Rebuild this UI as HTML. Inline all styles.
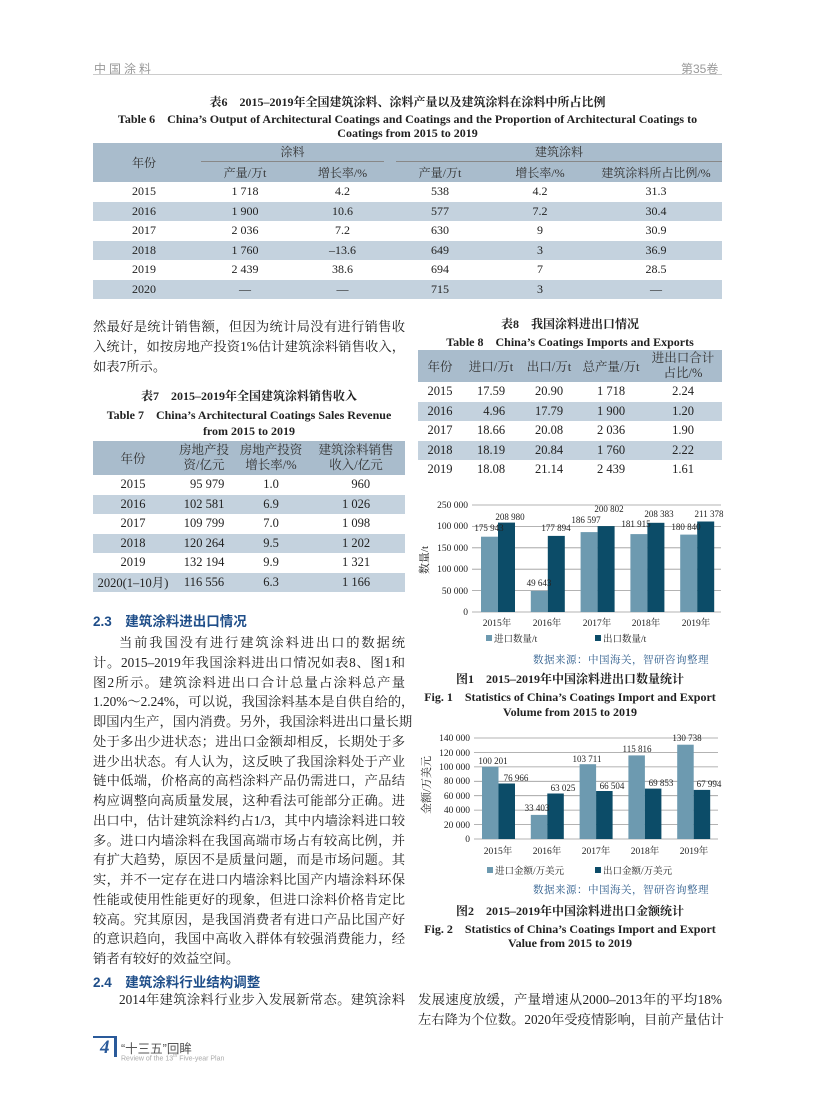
<!DOCTYPE html>
<html><head><meta charset="utf-8">
<style>
body{margin:0;width:816px;height:1099px;background:#fff;position:relative;overflow:hidden;font-family:"Liberation Serif","Noto Serif CJK SC",serif;color:#222;}
.a{position:absolute;white-space:nowrap;}
.l{position:absolute;font-size:13.3px;line-height:16px;white-space:nowrap;width:312px;text-align:justify;text-align-last:justify;}
.nl{text-align-last:left;}
.ti{position:absolute;font-weight:bold;font-size:12px;text-align:center;white-space:nowrap;}
table{border-collapse:collapse;position:absolute;font-size:12px;}
td{padding:0;text-align:center;height:19.5px;}
.sh td{background:#c4d2de;}
.hd td{background:#a9bccc;color:#333;}
.h2{position:absolute;font-family:"Liberation Sans","Noto Sans CJK SC",sans-serif;color:#1f4e89;font-size:13.5px;font-weight:bold;}
</style></head><body>
<div class="a" style="left:94px;top:60px;font-family:'Liberation Sans','Noto Sans CJK SC',sans-serif;color:#999;font-size:12px;letter-spacing:3px">中国涂料</div>
<div class="a" style="left:681px;top:60px;font-family:'Liberation Sans','Noto Sans CJK SC',sans-serif;color:#999;font-size:12px">第35卷</div>
<div class="a" style="left:93px;top:74px;width:629px;height:1px;background:#ccc"></div>

<div class="ti" style="left:93px;width:629px;top:93px">表6　2015–2019年全国建筑涂料、涂料产量以及建筑涂料在涂料中所占比例</div>
<div class="ti" style="left:93px;width:629px;top:110px">Table 6　China’s Output of Architectural Coatings and Coatings and the Proportion of Architectural Coatings to</div>
<div class="ti" style="left:93px;width:629px;top:126px">Coatings from 2015 to 2019</div>
<table style="left:93px;top:143px;width:629px">
<tr class="hd"><td rowspan="2" style="width:102px">年份</td><td colspan="2" style="height:19px"><div style="border-bottom:1px solid #888;margin:0 6px 0 6px;line-height:18px">涂料</div></td><td colspan="3"><div style="border-bottom:1px solid #888;margin:0 0 0 6px;line-height:18px">建筑涂料</div></td></tr>
<tr class="hd"><td style="width:100px">产量/万t</td><td style="width:95px">增长率/%</td><td style="width:100px">产量/万t</td><td style="width:100px">增长率/%</td><td>建筑涂料所占比例/%</td></tr>
<tr><td>2015</td><td>1 718</td><td>4.2</td><td>538</td><td>4.2</td><td>31.3</td></tr>
<tr class="sh"><td>2016</td><td>1 900</td><td>10.6</td><td>577</td><td>7.2</td><td>30.4</td></tr>
<tr><td>2017</td><td>2 036</td><td>7.2</td><td>630</td><td>9</td><td>30.9</td></tr>
<tr class="sh"><td>2018</td><td>1 760</td><td>–13.6</td><td>649</td><td>3</td><td>36.9</td></tr>
<tr><td>2019</td><td>2 439</td><td>38.6</td><td>694</td><td>7</td><td>28.5</td></tr>
<tr class="sh"><td>2020</td><td>—</td><td>—</td><td>715</td><td>3</td><td>—</td></tr>
</table>

<div class="l" style="left:93px;top:319px">然最好是统计销售额，但因为统计局没有进行销售收</div>
<div class="l" style="left:93px;top:339px">入统计，如按房地产投资1%估计建筑涂料销售收入，</div>
<div class="l nl" style="left:93px;top:359px">如表7所示。</div>

<div class="ti" style="left:93px;width:312px;top:387px">表7　2015–2019年全国建筑涂料销售收入</div>
<div class="ti" style="left:93px;width:312px;top:406px">Table 7　China’s Architectural Coatings Sales Revenue</div>
<div class="ti" style="left:93px;width:312px;top:424px">from 2015 to 2019</div>
<table style="left:93px;top:441px;width:312px;font-size:12.5px">
<tr class="hd"><td style="width:80px;height:34px">年份</td><td style="width:62px;line-height:15px">房地产投<br>资/亿元</td><td style="width:72px;line-height:15px">房地产投资<br>增长率/%</td><td style="line-height:15px">建筑涂料销售<br>收入/亿元</td></tr>
<tr><td>2015</td><td>&nbsp;&nbsp;95 979</td><td>1.0</td><td>&nbsp;&nbsp;&nbsp;960</td></tr>
<tr class="sh"><td>2016</td><td>102 581</td><td>6.9</td><td>1 026</td></tr>
<tr><td>2017</td><td>109 799</td><td>7.0</td><td>1 098</td></tr>
<tr class="sh"><td>2018</td><td>120 264</td><td>9.5</td><td>1 202</td></tr>
<tr><td>2019</td><td>132 194</td><td>9.9</td><td>1 321</td></tr>
<tr class="sh"><td>2020(1–10月)</td><td>116 556</td><td>6.3</td><td>1 166</td></tr>
</table>

<div class="h2" style="left:93px;top:610px">2.3　建筑涂料进出口情况</div>
<div class="l" style="left:93px;top:635px;width:286px;padding-left:26px">当前我国没有进行建筑涂料进出口的数据统</div>
<div class="l" style="left:93px;top:654.75px">计。2015–2019年我国涂料进出口情况如表8、图1和</div>
<div class="l" style="left:93px;top:674.5px">图2所示。建筑涂料进出口合计总量占涂料总产量</div>
<div class="l" style="left:93px;top:694.25px">1.20%～2.24%，可以说，我国涂料基本是自供自给的，</div>
<div class="l" style="left:93px;top:714px">即国内生产，国内消费。另外，我国涂料进出口量长期</div>
<div class="l" style="left:93px;top:733.75px">处于多出少进状态；进出口金额却相反，长期处于多</div>
<div class="l" style="left:93px;top:753.5px">进少出状态。有人认为，这反映了我国涂料处于产业</div>
<div class="l" style="left:93px;top:773.25px">链中低端，价格高的高档涂料产品仍需进口，产品结</div>
<div class="l" style="left:93px;top:793px">构应调整向高质量发展，这种看法可能部分正确。进</div>
<div class="l" style="left:93px;top:812.75px">出口中，估计建筑涂料约占1/3，其中内墙涂料进口较</div>
<div class="l" style="left:93px;top:832.5px">多。进口内墙涂料在我国高端市场占有较高比例，并</div>
<div class="l" style="left:93px;top:852.25px">有扩大趋势，原因不是质量问题，而是市场问题。其</div>
<div class="l" style="left:93px;top:872px">实，并不一定存在进口内墙涂料比国产内墙涂料环保</div>
<div class="l" style="left:93px;top:891.75px">性能或使用性能更好的现象，但进口涂料价格肯定比</div>
<div class="l" style="left:93px;top:911.5px">较高。究其原因，是我国消费者有进口产品比国产好</div>
<div class="l" style="left:93px;top:931.25px">的意识趋向，我国中高收入群体有较强消费能力，经</div>
<div class="l nl" style="left:93px;top:951px">销者有较好的效益空间。</div>
<div class="h2" style="left:93px;top:971px">2.4　建筑涂料行业结构调整</div>
<div class="l" style="left:93px;top:992px;width:286px;padding-left:26px">2014年建筑涂料行业步入发展新常态。建筑涂料</div>

<div class="ti" style="left:418px;width:304px;top:315px">表8　我国涂料进出口情况</div>
<div class="ti" style="left:418px;width:304px;top:333px">Table 8　China’s Coatings Imports and Exports</div>
<table style="left:418px;top:350px;width:304px;font-size:12.5px">
<tr class="hd"><td style="width:44px;height:32px">年份</td><td style="width:58px">进口/万t</td><td style="width:58px">出口/万t</td><td style="width:66px">总产量/万t</td><td style="line-height:15px">进出口合计<br>占比/%</td></tr>
<tr><td>2015</td><td>17.59</td><td>20.90</td><td>1 718</td><td>2.24</td></tr>
<tr class="sh"><td>2016</td><td>&nbsp;&nbsp;4.96</td><td>17.79</td><td>1 900</td><td>1.20</td></tr>
<tr><td>2017</td><td>18.66</td><td>20.08</td><td>2 036</td><td>1.90</td></tr>
<tr class="sh"><td>2018</td><td>18.19</td><td>20.84</td><td>1 760</td><td>2.22</td></tr>
<tr><td>2019</td><td>18.08</td><td>21.14</td><td>2 439</td><td>1.61</td></tr>
</table>

<svg class="a" style="left:0;top:0" width="816" height="1099" font-family="Liberation Serif,Noto Serif CJK SC,serif" font-size="9.5" fill="#222">
<g stroke="#9a9a9a" stroke-width="0.8">
<line x1="472" y1="612" x2="721" y2="612"/><line x1="472" y1="590.6" x2="721" y2="590.6"/><line x1="472" y1="569.2" x2="721" y2="569.2"/><line x1="472" y1="547.8" x2="721" y2="547.8"/><line x1="472" y1="526.4" x2="721" y2="526.4"/><line x1="472" y1="505" x2="721" y2="505"/>
</g>
<g text-anchor="end"><text x="468" y="615">0</text><text x="468" y="594">50 000</text><text x="468" y="572">100 000</text><text x="468" y="551">150 000</text><text x="468" y="529">100 000</text><text x="468" y="508">250 000</text></g>
<text x="0" y="0" font-size="11" transform="translate(428,560) rotate(-90)" text-anchor="middle">数量/t</text>
<g fill="#6d9ab0"><rect x="481" y="536.7" width="17" height="75.3"/><rect x="530.8" y="590.8" width="17" height="21.2"/><rect x="580.6" y="532.1" width="17" height="79.9"/><rect x="630.4" y="534.1" width="17" height="77.9"/><rect x="680.2" y="534.6" width="17" height="77.4"/></g>
<g fill="#0c4c68"><rect x="498" y="522.6" width="17" height="89.4"/><rect x="547.8" y="535.9" width="17" height="76.1"/><rect x="597.6" y="526.1" width="17" height="85.9"/><rect x="647.4" y="522.8" width="17" height="89.2"/><rect x="697.2" y="521.5" width="17" height="90.5"/></g>
<g text-anchor="middle" font-size="9"><text x="489" y="531">175 943</text><text x="510" y="520">208 980</text><text x="539" y="586">49 643</text><text x="556" y="531">177 894</text><text x="586" y="523">186 597</text><text x="609" y="512">200 802</text><text x="636" y="527">181 915</text><text x="659" y="517">208 383</text><text x="686" y="530">180 840</text><text x="709" y="517">211 378</text></g>
<g text-anchor="middle" font-size="9.5"><text x="497" y="626">2015年</text><text x="547" y="626">2016年</text><text x="597" y="626">2017年</text><text x="646" y="626">2018年</text><text x="696" y="626">2019年</text></g>
<rect x="486" y="635" width="6" height="6" fill="#6d9ab0"/><text x="494" y="642">进口数量/t</text>
<rect x="595" y="635" width="6" height="6" fill="#0c4c68"/><text x="603" y="642">出口数量/t</text>
<text x="709" y="663" text-anchor="end" fill="#2a5a8a" font-size="10.5" letter-spacing="0.5">数据来源：中国海关，智研咨询整理</text>

<g stroke="#9a9a9a" stroke-width="0.8">
<line x1="474" y1="839" x2="718" y2="839"/><line x1="474" y1="824.6" x2="718" y2="824.6"/><line x1="474" y1="810.1" x2="718" y2="810.1"/><line x1="474" y1="795.7" x2="718" y2="795.7"/><line x1="474" y1="781.3" x2="718" y2="781.3"/><line x1="474" y1="766.9" x2="718" y2="766.9"/><line x1="474" y1="752.4" x2="718" y2="752.4"/><line x1="474" y1="738" x2="718" y2="738"/>
</g>
<g text-anchor="end"><text x="470" y="842">0</text><text x="470" y="828">20 000</text><text x="470" y="813">40 000</text><text x="470" y="799">60 000</text><text x="470" y="784">80 000</text><text x="470" y="770">100 000</text><text x="470" y="756">120 000</text><text x="470" y="741">140 000</text></g>
<text x="0" y="0" font-size="11" transform="translate(430,785) rotate(-90)" text-anchor="middle">金额/万美元</text>
<g fill="#6d9ab0"><rect x="482" y="766.7" width="16.5" height="72.3"/><rect x="530.8" y="814.9" width="16.5" height="24.1"/><rect x="579.6" y="764.2" width="16.5" height="74.8"/><rect x="628.4" y="755.4" width="16.5" height="83.6"/><rect x="677.2" y="744.7" width="16.5" height="94.3"/></g>
<g fill="#0c4c68"><rect x="498.5" y="783.5" width="16.5" height="55.5"/><rect x="547.3" y="793.5" width="16.5" height="45.5"/><rect x="596.1" y="791" width="16.5" height="48"/><rect x="644.9" y="788.6" width="16.5" height="50.4"/><rect x="693.7" y="789.9" width="16.5" height="49.1"/></g>
<g text-anchor="middle" font-size="9"><text x="493" y="764">100 201</text><text x="516" y="781">76 966</text><text x="537" y="811">33 403</text><text x="563" y="791">63 025</text><text x="587" y="762">103 711</text><text x="612" y="789">66 504</text><text x="637" y="752">115 816</text><text x="661" y="786">69 853</text><text x="687" y="741">130 738</text><text x="709" y="787">67 994</text></g>
<g text-anchor="middle" font-size="9.5"><text x="498" y="854">2015年</text><text x="547" y="854">2016年</text><text x="596" y="854">2017年</text><text x="645" y="854">2018年</text><text x="694" y="854">2019年</text></g>
<rect x="487" y="867" width="6" height="6" fill="#6d9ab0"/><text x="495" y="874">进口金额/万美元</text>
<rect x="595" y="867" width="6" height="6" fill="#0c4c68"/><text x="603" y="874">出口金额/万美元</text>
<text x="709" y="893" text-anchor="end" fill="#2a5a8a" font-size="10.5" letter-spacing="0.5">数据来源：中国海关，智研咨询整理</text>
</svg>

<div class="ti" style="left:418px;width:304px;top:670px">图1　2015–2019年中国涂料进出口数量统计</div>
<div class="ti" style="left:418px;width:304px;top:688px">Fig. 1　Statistics of China’s Coatings Import and Export</div>
<div class="ti" style="left:418px;width:304px;top:705px">Volume from 2015 to 2019</div>
<div class="ti" style="left:418px;width:304px;top:902px">图2　2015–2019年中国涂料进出口金额统计</div>
<div class="ti" style="left:418px;width:304px;top:920px">Fig. 2　Statistics of China’s Coatings Import and Export</div>
<div class="ti" style="left:418px;width:304px;top:936px">Value from 2015 to 2019</div>

<div class="l" style="left:418px;top:992px;width:304px">发展速度放缓，产量增速从2000–2013年的平均18%</div>
<div class="l" style="left:418px;top:1012px;width:304px">左右降为个位数。2020年受疫情影响，目前产量估计</div>

<div class="a" style="left:93px;top:1036px;width:22px;height:1.5px;background:#2a5a9a"></div>
<div class="a" style="left:114px;top:1036px;width:3px;height:21px;background:#2a5a9a"></div>
<div class="a" style="left:100px;top:1037px;font-size:19px;font-style:italic;font-weight:bold;color:#2a5a9a">4</div>
<div class="a" style="left:121px;top:1038px;font-family:'Liberation Sans','Noto Sans CJK SC',sans-serif;font-size:12.5px;color:#555">“十三五”回眸</div>
<div class="a" style="left:121px;top:1053px;font-family:'Liberation Sans',sans-serif;font-size:7px;color:#aaa">Review of the 13<sup style="font-size:5px">th</sup> Five-year Plan</div>
</body></html>
